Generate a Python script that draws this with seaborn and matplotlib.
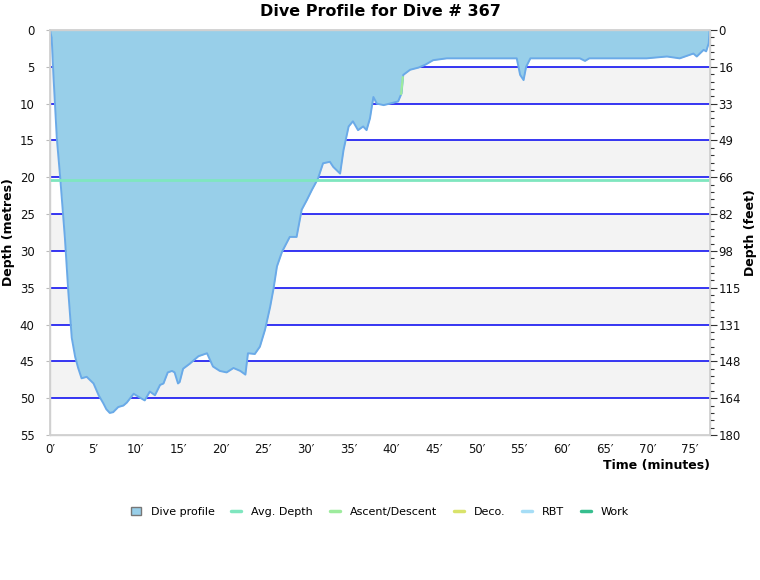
import numpy as np
import pandas as pd
import matplotlib
matplotlib.use("Agg")
import matplotlib.pyplot as plt
from matplotlib.lines import Line2D
from matplotlib.patches import Patch
import seaborn as sns

# ---- data ----
time_min = [0, 0.2, 0.4, 0.8, 1.2, 1.75, 2.15, 2.55, 2.95, 3.3, 3.7, 4.3, 5.1, 5.7,
            6.25, 6.6, 7.0, 7.4, 8.0, 8.6, 9.0, 9.8, 10.5, 11.1, 11.7, 12.3, 12.9,
            13.3, 13.8, 14.3, 14.6, 15.0, 15.2, 15.6, 16.4, 17.4, 18.4, 19.1, 19.9,
            20.7, 21.5, 22.3, 22.9, 23.2, 24.0, 24.6, 25.2, 25.8, 26.2, 26.6, 27.2,
            28.1, 28.9, 29.5, 30.1, 30.7, 31.4, 32.0, 32.8, 33.2, 34.0, 34.4, 35.0,
            35.5, 36.1, 36.7, 37.1, 37.5, 37.9, 38.3, 39.1, 39.8, 40.8, 41.2, 41.4,
            42.2, 43.2, 44.0, 44.9, 46.5, 48.8, 52.0, 54.7, 55.1, 55.5, 55.8, 56.3,
            59.0, 62.1, 62.7, 63.2, 66.0, 69.9, 72.3, 73.8, 75.4, 75.8, 76.6, 76.9,
            77.2, 77.3]
depth_m = [0, 1.1, 6.1, 14.7, 20.1, 28.3, 35.6, 41.8, 44.4, 45.9, 47.3, 47.1, 48.0, 49.6,
           50.7, 51.5, 52.0, 51.9, 51.2, 51.0, 50.6, 49.4, 49.9, 50.3, 49.1, 49.6, 48.2,
           48.0, 46.5, 46.3, 46.5, 48.0, 47.8, 46.0, 45.3, 44.3, 43.9, 45.7, 46.3,
           46.5, 45.9, 46.3, 46.8, 43.9, 44.0, 43.0, 40.7, 37.6, 35.1, 32.1, 30.1,
           28.1, 28.1, 24.4, 23.1, 21.7, 20.2, 18.1, 17.9, 18.6, 19.5, 16.3, 13.1,
           12.4, 13.6, 13.1, 13.6, 12.0, 9.1, 10.0, 10.2, 10.0, 9.7, 8.6, 6.1,
           5.4, 5.1, 4.7, 4.1, 3.85, 3.85, 3.85, 3.85, 6.1, 6.8, 5.0, 3.85,
           3.85, 3.85, 4.2, 3.85, 3.85, 3.85, 3.6, 3.85, 3.2, 3.6, 2.7, 2.9,
           1.8, 0.2]
avg_depth = 20.4
ascent_time = [41.15, 41.35]
ascent_depth = [8.7, 6.4]
x_ticks = [0, 5, 10, 15, 20, 25, 30, 35, 40, 45, 50, 55, 60, 65, 70, 75]
y_ticks_m = [0, 5, 10, 15, 20, 25, 30, 35, 40, 45, 50, 55]
legend_labels = ["Dive profile", "Avg. Depth", "Ascent/Descent", "Deco.", "RBT", "Work"]
legend_colors = ["#98CFE9", "#7FE6BF", "#9DEB9D", "#D9E36B", "#A6DDF6", "#36BE8E"]

df = pd.DataFrame({"t": time_min, "d": depth_m})

sns.set_theme(style="white")
plt.rcParams["font.family"] = ["DejaVu Sans"]
plt.rcParams["text.color"] = "black"
plt.rcParams["axes.labelcolor"] = "black"

fig = plt.figure(figsize=(7.6, 5.8), dpi=100)
ax = fig.add_axes([50/760, 1-435/580, 660/760, 405/580])

xmax = 77.35
ymax = 55
# background bands and grid lines
for lo in range(5, 55, 10):
    ax.axhspan(lo, lo + 5, color="#F3F3F3", lw=0, zorder=0)
for g in range(5, 55, 5):
    ax.axhline(g, color="#0000F0", lw=1.1, zorder=1)

ax.fill_between(df["t"], 0, df["d"], color="#98CFE9", lw=0, zorder=2)
sns.lineplot(data=df, x="t", y="d", ax=ax, color="#6AAAE8", lw=1.4, zorder=3,
             estimator=None, sort=False)
ax.axhline(avg_depth, color="#7FE6BF", lw=2, zorder=4)
ax.plot(ascent_time, ascent_depth, color="#9DEB9D", lw=1.6, zorder=4)

ax.set_xlim(0, xmax)
ax.set_ylim(ymax, 0)
ax.set_xticks(x_ticks)
ax.set_xticklabels([f"{v}\u2032" for v in x_ticks], fontsize=8.5)
ax.set_yticks(y_ticks_m)
ax.set_yticklabels([str(v) for v in y_ticks_m], fontsize=8.5)
ax.tick_params(axis="both", length=3, width=0.8, color="#BBBBBB", pad=3, labelcolor="#111111")
ax.tick_params(axis="y", pad=8)
ax.set_xlabel("")
ax.set_ylabel("Depth (metres)", fontsize=9, fontweight="bold")
ax.yaxis.set_label_coords((15 - 50) / 660, 0.5)
for s in ax.spines.values():
    s.set_color("#D0D0D0")
    s.set_linewidth(1)

ax2 = ax.twinx()
ax2.set_ylim(ymax, 0)
ax2.set_yticks(y_ticks_m)
ax2.set_yticklabels([str(int(round(v * 3.28084))) for v in y_ticks_m], fontsize=8.5)
ax2.set_yticks(np.arange(0, 56, 1), minor=True)
ax2.tick_params(axis="y", which="major", length=5, width=0.8, color="#333333", pad=1,
                labelcolor="#111111")
ax2.tick_params(axis="y", which="minor", length=3, width=0.8, color="#333333")
ax2.set_ylabel("Depth (feet)", fontsize=9, fontweight="bold", rotation=90)
ax2.yaxis.set_label_coords((744 - 50) / 660, 0.5)
for s in ax2.spines.values():
    s.set_color("#D0D0D0")

fig.text(380/760, 1-12/580, "Dive Profile for Dive # 367", ha="center", va="center",
         fontsize=11.5, fontweight="bold", color="black")
fig.text(710/760, 1-466/580, "Time (minutes)", ha="right", va="center",
         fontsize=9, fontweight="bold", color="black")

handles = [Patch(facecolor=legend_colors[0], edgecolor="#777777", lw=1)]
handles += [Line2D([0], [0], color=c, lw=2.5) for c in legend_colors[1:]]
fig.legend(handles, legend_labels, loc="center", bbox_to_anchor=(0.5, 1-512/580),
           ncol=6, frameon=False, fontsize=8, handlelength=0.9, handleheight=0.8,
           columnspacing=1.5, handletextpad=0.9)

fig.savefig("out.png", dpi=100)
